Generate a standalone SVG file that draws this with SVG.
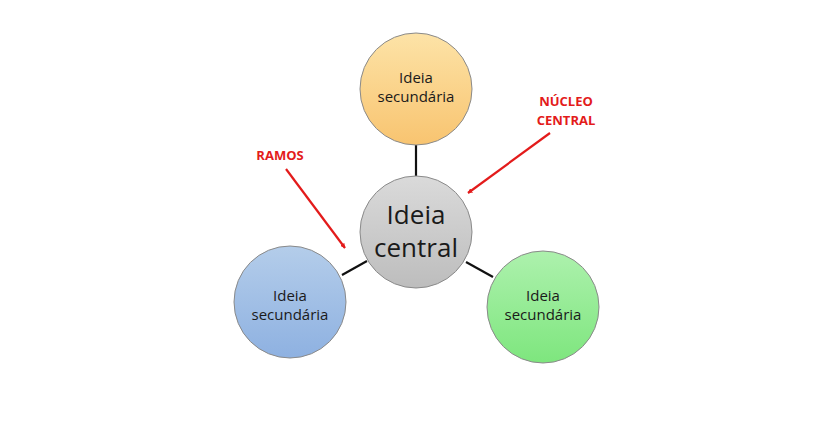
<svg xmlns="http://www.w3.org/2000/svg" width="833" height="441" viewBox="0 0 833 441">
<style>
.c{stroke:#8a8a8a;stroke-width:1}
.t{font-family:"Open Sans","Liberation Sans",sans-serif;fill:#1a1a1a;text-anchor:middle}
.s{font-size:15px}
.b{font-size:26px}
.r{font-family:"Open Sans","Liberation Sans",sans-serif;font-weight:bold;font-size:13px;fill:#e31b1b;text-anchor:middle}
.l{stroke:#111;stroke-width:2.2}
.a{stroke:#e31b1b;stroke-width:2.2;fill:none}
</style>
<defs>
<linearGradient id="go" x1="0" y1="0" x2="0" y2="1"><stop offset="0" stop-color="#fde3a7"/><stop offset="1" stop-color="#f8c470"/></linearGradient>
<linearGradient id="gb" x1="0" y1="0" x2="0" y2="1"><stop offset="0" stop-color="#b4cdea"/><stop offset="1" stop-color="#8eb1e1"/></linearGradient>
<linearGradient id="gg" x1="0" y1="0" x2="0" y2="1"><stop offset="0" stop-color="#adf1ad"/><stop offset="1" stop-color="#7ee67e"/></linearGradient>
<linearGradient id="gc" x1="0" y1="0" x2="0" y2="1"><stop offset="0" stop-color="#dadada"/><stop offset="1" stop-color="#bdbdbd"/></linearGradient>
<marker id="ar" viewBox="0 0 10 10" refX="9" refY="5" markerWidth="5" markerHeight="5" orient="auto" markerUnits="userSpaceOnUse"><path d="M0,0 L10,5 L0,10 z" fill="#e31b1b"/></marker>
</defs>
<g id="connectors">
<line class="l" x1="416" y1="145" x2="416" y2="176"/>
<line class="l" x1="342" y1="275" x2="367" y2="261"/>
<line class="l" x1="466" y1="262" x2="493" y2="277"/>
</g>
<g id="top"><circle class="c" cx="416" cy="89" r="56" fill="url(#go)"/><text class="t s" x="416" y="83">Ideia</text><text class="t s" x="416" y="102">secundária</text></g>
<g id="central"><circle class="c" cx="416" cy="232" r="56" fill="url(#gc)"/><text class="t b" x="416" y="224">Ideia</text><text class="t b" x="416" y="257">central</text></g>
<g id="left"><circle class="c" cx="290" cy="302" r="56" fill="url(#gb)"/><text class="t s" x="290" y="301">Ideia</text><text class="t s" x="290" y="320">secundária</text></g>
<g id="right"><circle class="c" cx="543" cy="307" r="56" fill="url(#gg)"/><text class="t s" x="543" y="301">Ideia</text><text class="t s" x="543" y="320">secundária</text></g>
<g id="ramos"><text class="r" x="280" y="160">RAMOS</text><line class="a" x1="286" y1="169" x2="345" y2="248" marker-end="url(#ar)"/></g>
<g id="nucleo"><text class="r" x="566" y="106">NÚCLEO</text><text class="r" x="566" y="125">CENTRAL</text><line class="a" x1="550" y1="133" x2="468" y2="193" marker-end="url(#ar)"/></g>
</svg>
